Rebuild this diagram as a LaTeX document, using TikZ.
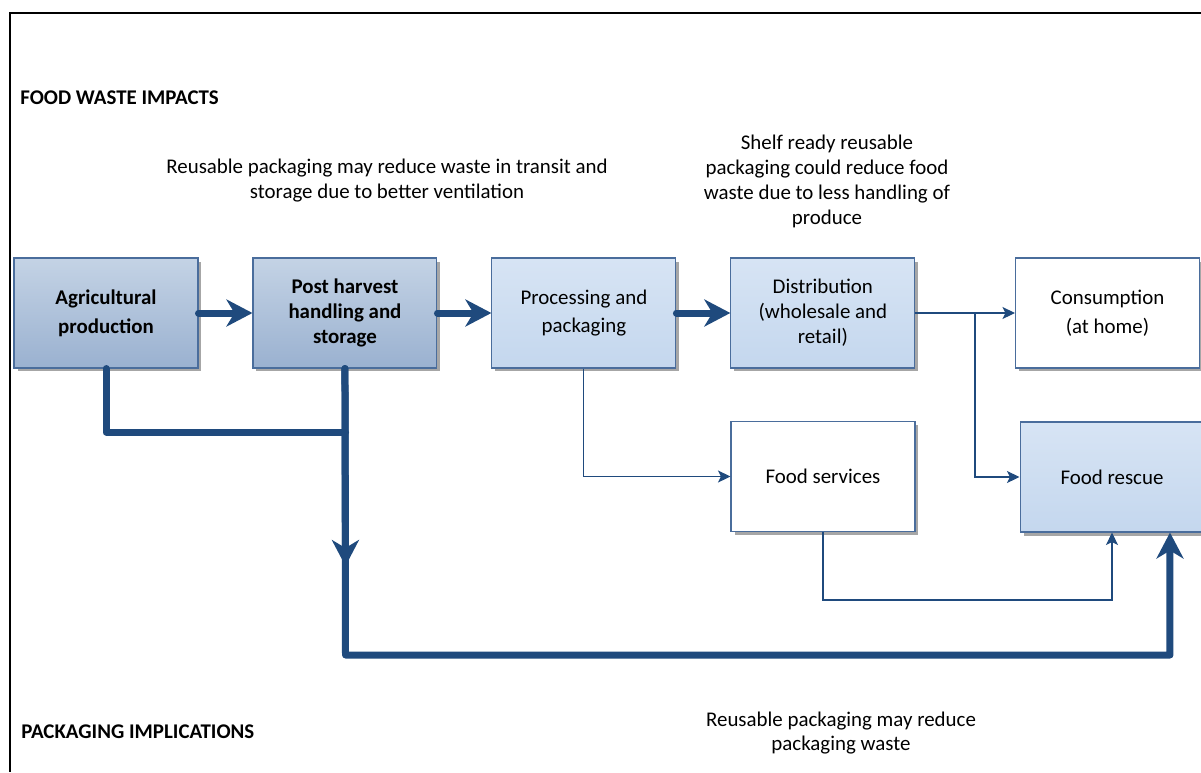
\documentclass[tikz,border=0pt]{standalone}
\usepackage{fontspec}
\setmainfont{Carlito}
\usetikzlibrary{positioning, arrows.meta, shadows}

\definecolor{flowblue}{HTML}{1F4A7D}
\definecolor{boxline}{HTML}{4A6D9C}
\definecolor{darktop}{HTML}{C4D3E5}
\definecolor{darkbottom}{HTML}{9AB1D0}
\definecolor{lighttop}{HTML}{D7E4F4}
\definecolor{lightbottom}{HTML}{C4D7EE}

\tikzset{
  flow/.style={
	x=0.02cm, y=-0.02cm, % one unit is one pixel of the sketch
	node distance=4.78cm, % centre to centre along the chain
	every node/.style={font=\fontsize{11.9}{14.2}\selectfont, inner sep=0pt},
	stage/.style={draw=boxline, line width=0.6pt, minimum width=3.68cm, minimum height=2.2cm, align=center,
	  drop shadow={shadow xshift=0.07cm, shadow yshift=-0.07cm, fill=black!35, opacity=1}},
	dark/.style={stage, top color=darktop, bottom color=darkbottom, font=\fontsize{11.9}{14.2}\selectfont\bfseries},
	light/.style={stage, top color=lighttop, bottom color=lightbottom},
	plain/.style={stage, fill=white},
	note/.style={align=center},
	heading/.style={anchor=west, font=\fontsize{11.9}{14.2}\selectfont\bfseries},
	bigflow/.style={draw=flowblue, line width=0.14cm, line cap=round, line join=round,
	  -{Stealth[length=0.52cm, width=0.54cm, inset=0.16cm]}},
	smallflow/.style={draw=flowblue, line width=0.6pt, -{Stealth[length=0.25cm, width=0.24cm, inset=0.06cm]}},
  }
}

\begin{document}
\begin{tikzpicture}[flow]
\useasboundingbox (0,0) rectangle (1201,772);
\draw[line width=1.1pt] (1201,13) -- (10,13) -- (10,772);

\node[heading] (impacts) at (20,98) {FOOD WASTE IMPACTS};
\node[heading] (implications) at (21,732) {PACKAGING IMPLICATIONS};
\node[note] (transitnote) at (387,181) {Reusable packaging may reduce waste in transit and\\storage due to better ventilation};
\node[note] (shelfnote) at (827,181) {Shelf ready reusable\\packaging could reduce food\\waste due to less handling of\\produce};
\node[note] (wastenote) at (841,733) {Reusable packaging may reduce\\packaging waste};

\node[dark] (agri) at (106,313) {Agricultural\\[2.2pt]production};
\node[dark, right of=agri] (harvest) {Post harvest\\handling and\\storage};
\node[light, right of=harvest] (process) {Processing and\\[2.2pt]packaging};
\node[light, right of=process] (distrib) {Distribution\\(wholesale and\\retail)};
\node[plain] (consume) at (1107.5,313) {Consumption\\[2.2pt](at home)};
\node[plain] (services) at (823,476.5) {Food services};
\node[light] (rescue) at (1112,477) {Food rescue};

\coordinate (split) at (975,313);
\coordinate (merge) at (345.5,432);
\coordinate (downtip) at (345.5,566);
\coordinate (turn) at (345.5,655);
\coordinate (servdrop) at (823,600);

\draw[bigflow] (agri) -- (harvest);
\draw[bigflow] (harvest) -- (process);
\draw[bigflow] (process) -- (distrib);
\draw[smallflow] (distrib) -- (consume);
\draw[smallflow] (split) |- (rescue);
\draw[smallflow] (process) |- (services);
\draw[smallflow] (services.south) -- (servdrop) -| (rescue.south);

\draw[bigflow, -] (agri.south) |- (merge);
\draw[bigflow] (harvest.south) -- (turn) -| ([xshift=1.16cm]rescue.south);
\draw[bigflow] (harvest.south) -- (downtip);
\end{tikzpicture}
\end{document}
